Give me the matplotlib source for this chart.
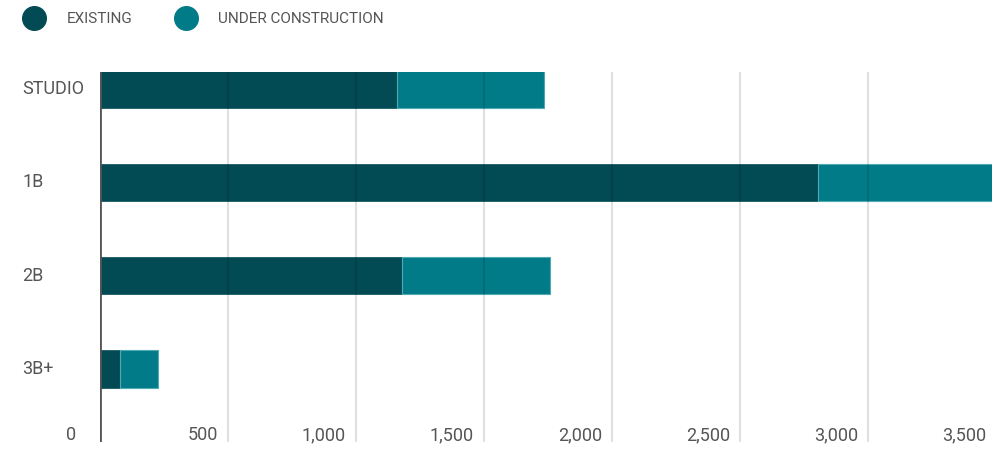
import matplotlib
matplotlib.use("Agg")
import matplotlib.pyplot as plt
from matplotlib.transforms import blended_transform_factory, offset_copy
from matplotlib.lines import Line2D

plt.rcParams['font.family'] = ['Roboto', 'DejaVu Sans']

categories = ["STUDIO", "1B", "2B", "3B+"]
existing = [1160, 2805, 1180, 78]
under_construction = [574, 1000, 578, 148]
series_names = ["EXISTING", "UNDER CONSTRUCTION"]
xticks = [0, 500, 1000, 1500, 2000, 2500, 3000, 3500]
xtick_labels = ["0", "500", "1,000", "1,500", "2,000", "2,500", "3,000", "3,500"]

c_exist = "#024b55"
c_uc = "#027b88"
txt = "#555555"

W, H = 992, 449
fig = plt.figure(figsize=(W/100, H/100), dpi=100)
ax = fig.add_axes([100/W, (H-442)/H, 896/W, 370/H])

y = list(range(len(categories)))
ax.barh(y, existing, height=0.4, color=c_exist, edgecolor=c_exist, linewidth=0.5, zorder=1)
ax.barh(y, under_construction, left=existing, height=0.4, color=c_uc,
        edgecolor="#4fa9b2", linewidth=0.8, zorder=1)

ax.set_xlim(0, 3500)
ax.set_ylim(3.78, -0.182)

for xt in xticks[1:]:
    ax.axvline(xt, color="black", alpha=0.12, lw=1.5, zorder=3)
ax.axvline(0, color="#555555", lw=2.0, zorder=4)

for s in ax.spines.values():
    s.set_visible(False)
ax.set_xticks([])
ax.set_yticks([])

# x tick labels, right-aligned just left of each gridline
base = blended_transform_factory(ax.transData, fig.transFigure)
for i, (xt, lab) in enumerate(zip(xticks, xtick_labels)):
    off = -24 if i == 0 else -10
    tr = offset_copy(base, fig=fig, x=off*0.72, y=0, units="points")
    ax.text(xt, (H-435)/H, lab, transform=tr, ha="right", va="center",
            fontsize=13, color=txt, clip_on=False)

# category labels
for yi, cat in zip(y, categories):
    ax.text(22/W, yi, cat, transform=blended_transform_factory(fig.transFigure, ax.transData),
            ha="left", va="center", fontsize=13, color=txt, clip_on=False)

# legend
handles = [Line2D([], [], marker="o", ls="", markersize=17, color=c) for c in (c_exist, c_uc)]
fig.legend(handles, series_names, loc="center left", bbox_to_anchor=(19/W, (H-19)/H), ncol=2,
           frameon=False, fontsize=11, labelcolor=txt, handletextpad=1.6, columnspacing=3.0,
           borderpad=0, handlelength=1.0)

fig.savefig("out.png", dpi=100)
